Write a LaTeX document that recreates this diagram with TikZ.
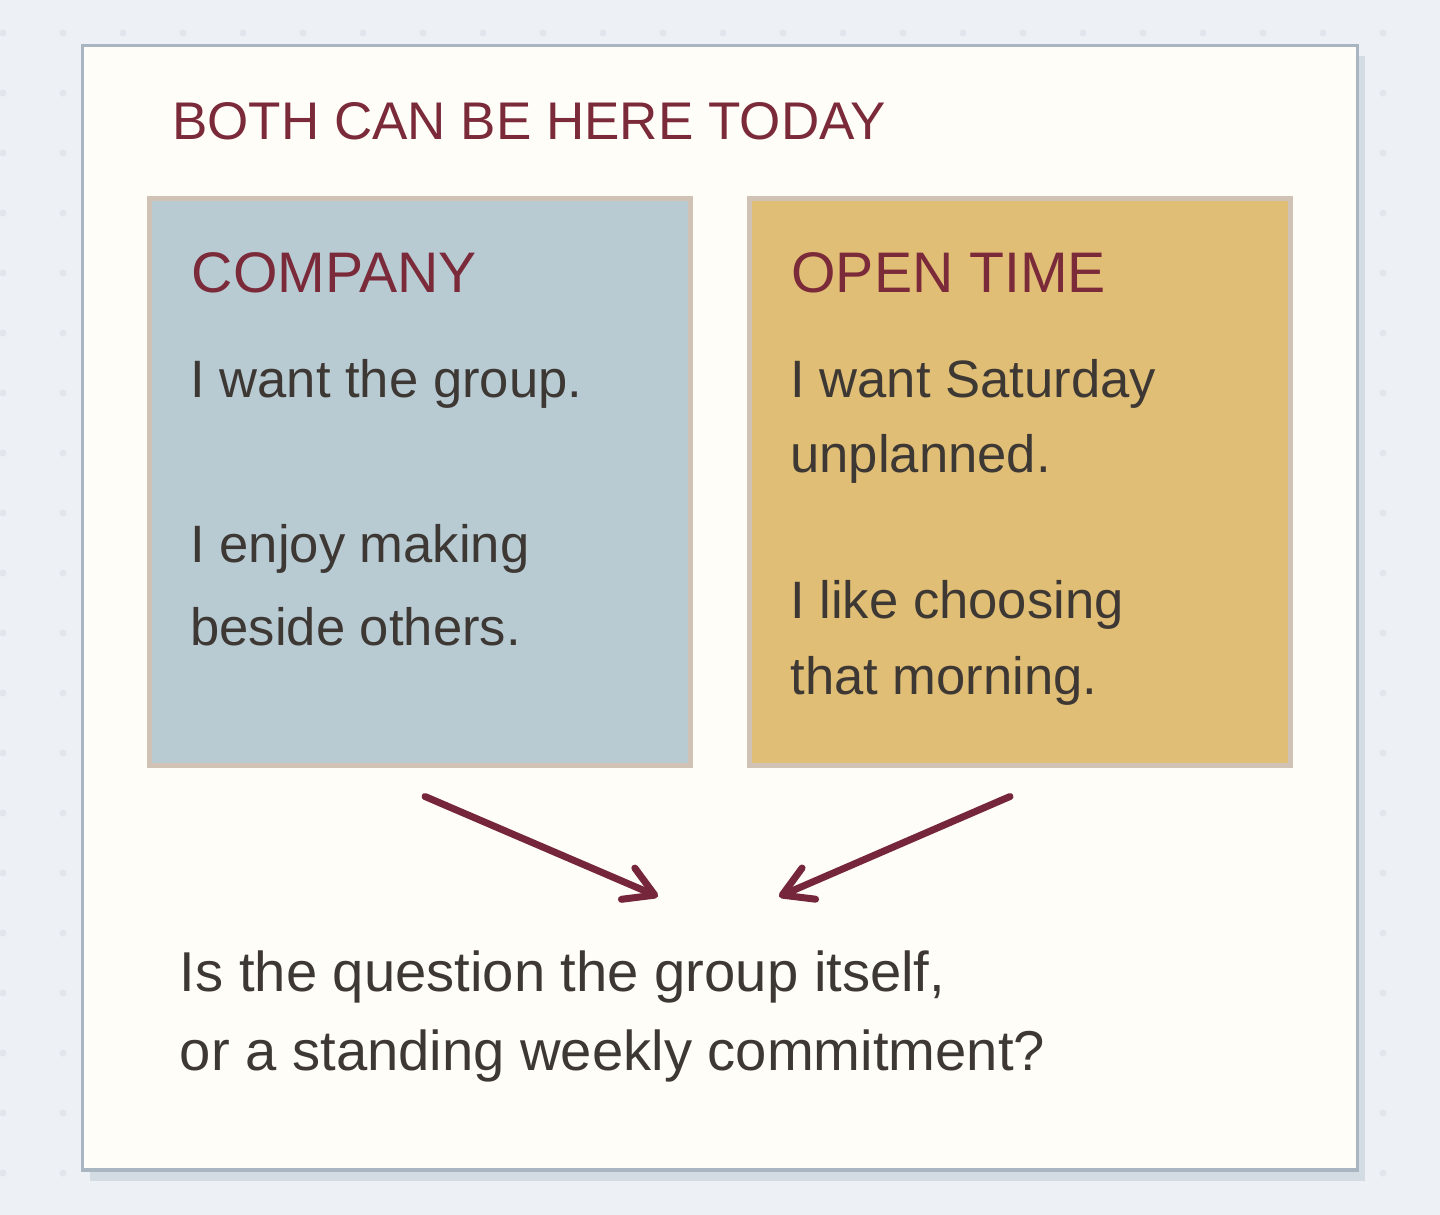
\documentclass[tikz,border=0pt]{standalone}
\usepackage{fontspec}
\setmainfont{Liberation Sans}
\usetikzlibrary{arrows.meta}
\definecolor{bgc}{HTML}{EDF0F5}
\definecolor{dotc}{HTML}{E1E6ED}
\definecolor{shadowc}{HTML}{D3DBE3}
\definecolor{cardline}{HTML}{A9B6C2}
\definecolor{cardfill}{HTML}{FFFDF7}
\definecolor{headc}{HTML}{7B2A3A}
\definecolor{textc}{HTML}{3D3834}
\definecolor{compfill}{HTML}{B8CBD3}
\definecolor{openfill}{HTML}{E0BE75}
\definecolor{boxline}{HTML}{D0C2B4}
\definecolor{arrc}{HTML}{76263B}
\tikzset{
  card/.style={draw=cardline, fill=cardfill, line width=1.8pt, minimum width=637.5pt, minimum height=562.35pt, inner sep=0pt},
  panel/.style={draw=boxline, line width=2.5pt, minimum width=270.5pt, minimum height=283.5pt, inner sep=0pt},
  titletext/.style={anchor=base west, inner sep=0pt, text=headc, font=\fontsize{26.5pt}{30pt}\selectfont},
  headtext/.style={anchor=base west, inner sep=0pt, text=headc, font=\fontsize{28.6pt}{32pt}\selectfont},
  bodytext/.style={anchor=base west, inner sep=0pt, text=textc, font=\fontsize{26.3pt}{30pt}\selectfont},
  qtext/.style={anchor=base west, inner sep=0pt, text=textc, font=\fontsize{28.1pt}{32pt}\selectfont},
  arr/.style={draw=arrc, line width=3.5pt, line cap=round, -{Straight Barb[length=14.5pt, width=17pt, round]}}
}
\begin{document}
\begin{tikzpicture}[x=0.5pt, y=-0.5pt]
\useasboundingbox (0,0) rectangle (1440,1215);
\fill[bgc] (0,0) rectangle (1440,1215);
% dot grid
\foreach \i in {0,...,23} {
  \foreach \j in {0,...,19} {
    \fill[dotc] (3+60*\i, 33+60*\j) circle (3.5);
  }
}
% shadow and card
\fill[shadowc] (90,56) rectangle (1365,1181);
\node[card] (card) at (720,607.65) {};
% title
\node[titletext] (title) at (172,139.3) {BOTH CAN BE HERE TODAY};
% panels
\node[panel, fill=compfill] (company) at (420,482) {};
\node[panel, fill=openfill] (open) at (1020,482) {};
\node[headtext] (comphead) at (191.5,292.7) {COMPANY};
\node[headtext] (openhead) at (791,292.7) {OPEN TIME};
\node[bodytext] (c1) at (190,397) {I want the group.};
\node[bodytext] (c2) at (190,562) {I enjoy making};
\node[bodytext] (c3) at (190,645) {beside others.};
\node[bodytext] (o1) at (790,397) {I want Saturday};
\node[bodytext] (o2) at (790,472) {unplanned.};
\node[bodytext] (o3) at (790,618) {I like choosing};
\node[bodytext] (o4) at (790,694) {that morning.};
% question
\node[qtext] (q1) at (179.5,991) {Is the question the group itself,};
\node[qtext] (q2) at (179.5,1070) {or a standing weekly commitment?};
% arrows
\coordinate (ls) at (425,796.5);
\coordinate (le) at (658,896.5);
\coordinate (rs) at (1010,796.5);
\coordinate (re) at (779,896.5);
\draw[arr] (ls) -- (le);
\draw[arr] (rs) -- (re);
\end{tikzpicture}
\end{document}
